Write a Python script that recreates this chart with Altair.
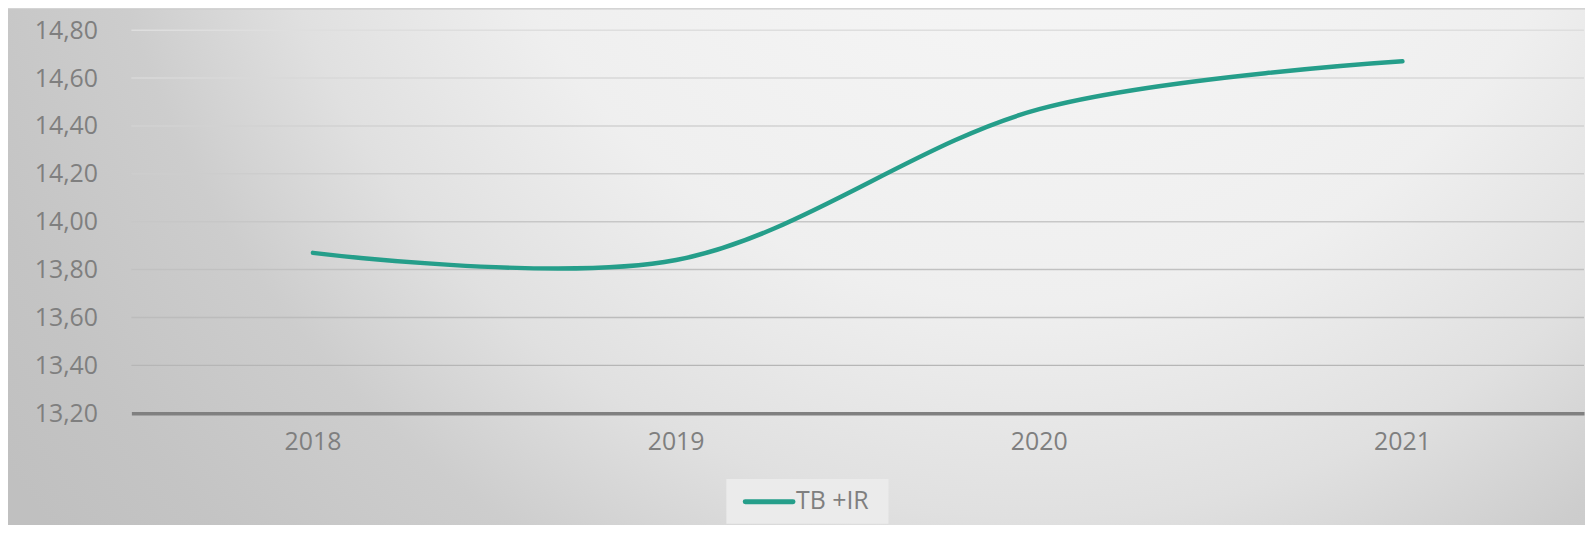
import altair as alt
import pandas as pd

years = ["2018", "2019", "2020", "2021"]
values = [13.87, 13.84, 14.47, 14.67]
series_name = "TB +IR"
y_ticks = [13.2, 13.4, 13.6, 13.8, 14.0, 14.2, 14.4, 14.6, 14.8]

df = pd.DataFrame({"year": years, "value": values, "series": [series_name] * len(years)})
grid_df = pd.DataFrame({"value": y_ticks[1:]})
legend_df = pd.DataFrame({"series": [series_name]})

W, H = 1460, 385
PAD_L, PAD_T = 124, 21
FONT = "Open Sans"
TXT = "#7f7f7f"
LINE_COLOR = "#259E8A"

y_scale = alt.Scale(domain=[13.2, 14.8], nice=False, zero=False)
y_axis = alt.Axis(
    title=None, values=y_ticks, zindex=1,
    labelExpr="replace(format(datum.value, '.2f'), '.', ',')",
    labelFont=FONT, labelFontSize=25, labelColor=TXT, labelPadding=34,
    ticks=False, domain=False, grid=False,
)

bg = alt.Chart(pd.DataFrame({"k": [0]})).mark_rect(
    clip=False,
    fill=alt.Gradient(
        gradient="radial",
        stops=[
            alt.GradientStop(color="#f9f9f9", offset=0),
            alt.GradientStop(color="#efefef", offset=0.45),
            alt.GradientStop(color="#e0e0e0", offset=0.62),
            alt.GradientStop(color="#cdcdcd", offset=0.75),
            alt.GradientStop(color="#c4c4c4", offset=0.9),
            alt.GradientStop(color="#c0c0c0", offset=1),
        ],
        x1=0.65, y1=0.0, r1=0.0, x2=0.65, y2=0.0, r2=0.8,
    ),
).encode(
    x=alt.value(-PAD_L), x2=alt.value(W + 1),
    y=alt.value(-PAD_T), y2=alt.value(-PAD_T + 1034),
)

grid = alt.Chart(grid_df).mark_rule(strokeWidth=1.5).encode(
    y=alt.Y("value:Q", scale=y_scale, axis=y_axis),
    x=alt.value(0), x2=alt.value(W),
    color=alt.Color(
        "value:Q",
        scale=alt.Scale(domain=[13.4, 14.8], range=["#b6b6b6", "#dedede"]),
        legend=None,
    ),
)

line = alt.Chart(df).mark_line(
    interpolate="catmull-rom", strokeWidth=4.5, strokeCap="round", color=LINE_COLOR
).encode(
    x=alt.X(
        "year:N",
        sort=years,
        scale=alt.Scale(type="band", paddingInner=0, paddingOuter=0),
        axis=alt.Axis(
            title=None, labelAngle=0, labelFont=FONT, labelFontSize=25,
            labelColor=TXT, labelPadding=16, ticks=False, zindex=1,
            domain=True, domainColor="#808080", domainWidth=3.5, grid=False,
        ),
    ),
    y=alt.Y("value:Q", scale=y_scale, axis=y_axis),
)

leg_box = alt.Chart(legend_df).mark_rect(color="#ebebeb", clip=False).encode(
    x=alt.value(598), x2=alt.value(761), y=alt.value(451), y2=alt.value(496),
)
leg_line = alt.Chart(legend_df).mark_rule(
    color=LINE_COLOR, strokeWidth=5, strokeCap="round", clip=False
).encode(
    x=alt.value(617), x2=alt.value(665), y=alt.value(474),
)
leg_text = alt.Chart(legend_df).mark_text(
    font=FONT, fontSize=25, color=TXT, align="left", baseline="middle", clip=False
).encode(
    text="series:N", x=alt.value(668), y=alt.value(473),
)

chart = alt.layer(bg, grid, line, leg_box, leg_line, leg_text).properties(
    width=W, height=H,
    autosize=alt.AutoSizeParams(type="none"),
    padding={"left": PAD_L, "top": PAD_T, "right": 1, "bottom": 111},
).configure_view(stroke=None).configure(background="#d4d4d4")

chart.save("out.html", embed_options={"renderer": "svg", "actions": False})
